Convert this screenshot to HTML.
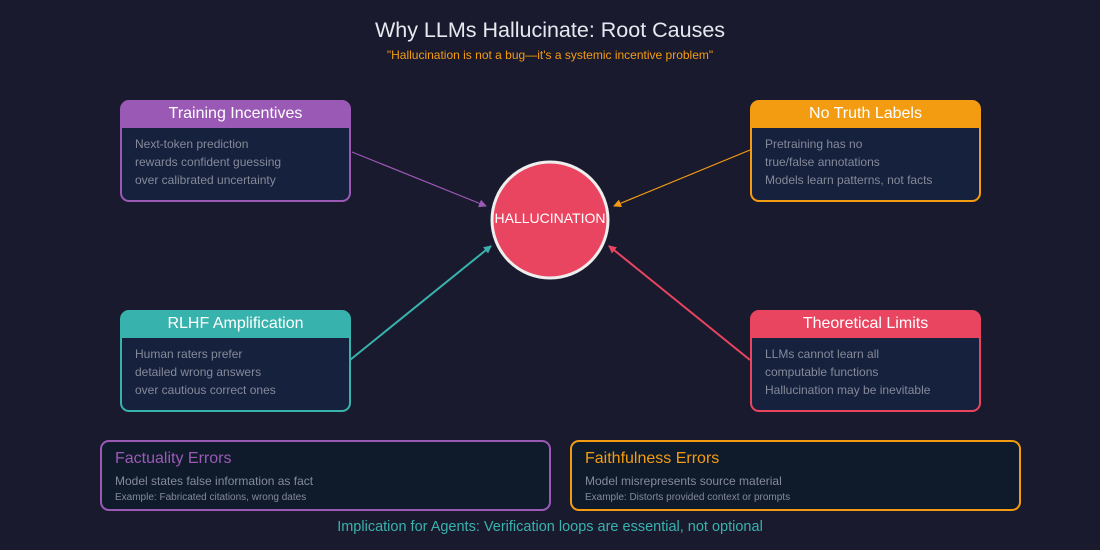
<!DOCTYPE html>
<html><head><meta charset="utf-8"><style>
html,body{margin:0;padding:0;background:#1a1a2e;}
svg{display:block;font-family:"Liberation Sans",sans-serif;}
</style></head><body>
<svg width="1100" height="550" viewBox="0 0 1100 550" xmlns="http://www.w3.org/2000/svg">
<defs>
<marker id="mp" markerWidth="8" markerHeight="8" refX="7" refY="4" orient="auto" markerUnits="userSpaceOnUse"><path d="M0,0 L8,4 L0,8 z" fill="#9b59b6"/></marker>
<marker id="mo" markerWidth="8" markerHeight="8" refX="7" refY="4" orient="auto" markerUnits="userSpaceOnUse"><path d="M0,0 L8,4 L0,8 z" fill="#f39c12"/></marker>
<marker id="mt" markerWidth="8" markerHeight="8" refX="7" refY="4" orient="auto" markerUnits="userSpaceOnUse"><path d="M0,0 L8,4 L0,8 z" fill="#38b2ac"/></marker>
<marker id="mr" markerWidth="8" markerHeight="8" refX="7" refY="4" orient="auto" markerUnits="userSpaceOnUse"><path d="M0,0 L8,4 L0,8 z" fill="#e94560"/></marker>
</defs>
<rect width="1100" height="550" fill="#1a1a2e"/>
<text x="550" y="37" text-anchor="middle" font-size="21.5" fill="#e8e8f0">Why LLMs Hallucinate: Root Causes</text>
<text x="550" y="59" text-anchor="middle" font-size="12" fill="#f39c12">"Hallucination is not a bug—it's a systemic incentive problem"</text>

<line x1="352" y1="152" x2="486" y2="206" stroke="#9b59b6" stroke-width="1.2" marker-end="url(#mp)"/>
<line x1="750" y1="150" x2="614" y2="206" stroke="#f39c12" stroke-width="1.2" marker-end="url(#mo)"/>
<line x1="350" y1="360" x2="491" y2="246" stroke="#38b2ac" stroke-width="2" marker-end="url(#mt)"/>
<line x1="750" y1="360" x2="609" y2="246" stroke="#e94560" stroke-width="2" marker-end="url(#mr)"/>

<circle cx="550" cy="220" r="58" fill="#e94560" stroke="#eeeeee" stroke-width="3"/>
<text x="550" y="223" text-anchor="middle" font-size="14" fill="#ffffff">HALLUCINATION</text>

<g font-size="12" fill="#858a98">
<rect x="121" y="101" width="229" height="100" rx="8" fill="#16213e" stroke="#9b59b6" stroke-width="2"/>
<path d="M121,128 V109 a8,8 0 0 1 8,-8 H342 a8,8 0 0 1 8,8 V128 z" fill="#9b59b6"/>
<text x="235.5" y="118" text-anchor="middle" font-size="16" fill="#ffffff">Training Incentives</text>
<text x="135" y="148">Next-token prediction</text>
<text x="135" y="166">rewards confident guessing</text>
<text x="135" y="184">over calibrated uncertainty</text>

<rect x="751" y="101" width="229" height="100" rx="8" fill="#16213e" stroke="#f39c12" stroke-width="2"/>
<path d="M751,128 V109 a8,8 0 0 1 8,-8 H972 a8,8 0 0 1 8,8 V128 z" fill="#f39c12"/>
<text x="865.5" y="118" text-anchor="middle" font-size="16" fill="#ffffff">No Truth Labels</text>
<text x="765" y="148">Pretraining has no</text>
<text x="765" y="166">true/false annotations</text>
<text x="765" y="184">Models learn patterns, not facts</text>

<rect x="121" y="311" width="229" height="100" rx="8" fill="#16213e" stroke="#38b2ac" stroke-width="2"/>
<path d="M121,338 V319 a8,8 0 0 1 8,-8 H342 a8,8 0 0 1 8,8 V338 z" fill="#38b2ac"/>
<text x="235.5" y="328" text-anchor="middle" font-size="16" fill="#ffffff">RLHF Amplification</text>
<text x="135" y="358">Human raters prefer</text>
<text x="135" y="376">detailed wrong answers</text>
<text x="135" y="394">over cautious correct ones</text>

<rect x="751" y="311" width="229" height="100" rx="8" fill="#16213e" stroke="#e94560" stroke-width="2"/>
<path d="M751,338 V319 a8,8 0 0 1 8,-8 H972 a8,8 0 0 1 8,8 V338 z" fill="#e94560"/>
<text x="865.5" y="328" text-anchor="middle" font-size="16" fill="#ffffff">Theoretical Limits</text>
<text x="765" y="358">LLMs cannot learn all</text>
<text x="765" y="376">computable functions</text>
<text x="765" y="394">Hallucination may be inevitable</text>
</g>

<rect x="101" y="441" width="449" height="69" rx="8" fill="#0f1b2b" stroke="#9b59b6" stroke-width="2"/>
<text x="115" y="463" font-size="16" fill="#9b59b6">Factuality Errors</text>
<text x="115" y="485" font-size="12" fill="#858a98">Model states false information as fact</text>
<text x="115" y="500" font-size="10" fill="#858a98">Example: Fabricated citations, wrong dates</text>

<rect x="571" y="441" width="449" height="69" rx="8" fill="#0f1b2b" stroke="#f39c12" stroke-width="2"/>
<text x="585" y="463" font-size="16" fill="#f39c12">Faithfulness Errors</text>
<text x="585" y="485" font-size="12" fill="#858a98">Model misrepresents source material</text>
<text x="585" y="500" font-size="10" fill="#858a98">Example: Distorts provided context or prompts</text>

<text x="550" y="531" text-anchor="middle" font-size="14.5" fill="#38b2ac">Implication for Agents: Verification loops are essential, not optional</text>
</svg>
</body></html>
